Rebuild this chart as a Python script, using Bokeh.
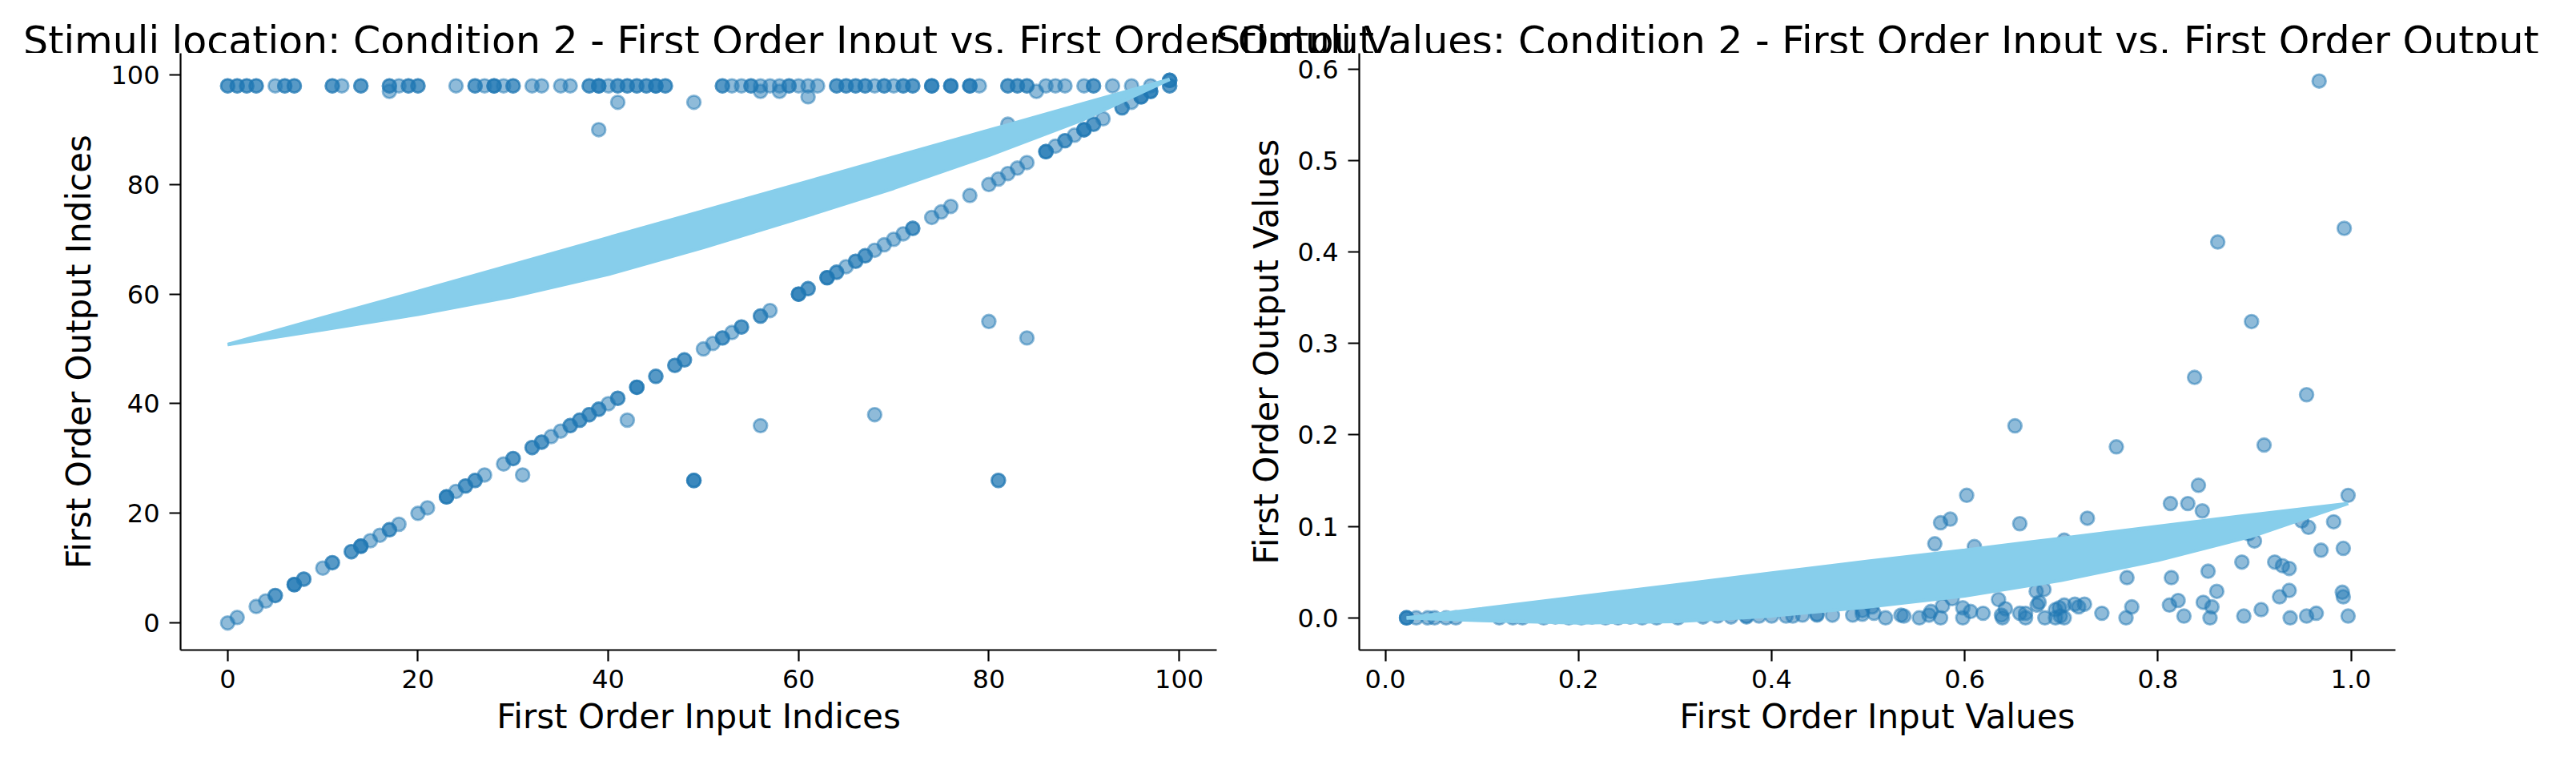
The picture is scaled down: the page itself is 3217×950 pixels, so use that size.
from bokeh.core.properties import value
from bokeh.embed import file_html
from bokeh.layouts import column, row
from bokeh.models import FixedTicker, NumeralTickFormatter, Range1d
from bokeh.plotting import figure
from bokeh.resources import INLINE

# ---- left panel: stimuli location (indices) ----
loc_input = [
    # output index 98
    0, 0, 1, 1, 2, 2, 3, 3, 5, 6,
    6, 7, 7, 11, 11, 12, 14, 14, 17, 17,
    18, 19, 19, 20, 20, 24, 26, 26, 27, 28,
    28, 28, 29, 30, 30, 32, 33, 35, 36, 38,
    38, 39, 39, 39, 40, 41, 41, 42, 42, 43,
    43, 44, 44, 45, 45, 45, 46, 46, 52, 52,
    53, 54, 55, 55, 56, 57, 58, 59, 59, 60,
    61, 62, 64, 64, 65, 65, 66, 66, 67, 67,
    68, 69, 69, 70, 71, 71, 72, 72, 74, 74,
    74, 76, 76, 76, 78, 78, 78, 79, 82, 82,
    83, 83, 84, 84, 86, 87, 88, 90, 91, 91,
    93, 95, 97, 99, 99,
    # just below the top row
    17, 56, 58, 85, 61, 41, 49, 39, 82,
    # diagonal
    0, 1, 3, 4, 5, 5, 7, 7, 7, 8,
    8, 10, 11, 11, 13, 13, 14, 14, 14, 15,
    16, 17, 17, 18, 20, 21, 23, 23, 23, 24,
    25, 25, 26, 26, 27, 29, 30, 30, 32, 32,
    33, 33, 34, 35, 36, 36, 37, 37, 38, 38,
    39, 39, 40, 41, 41, 43, 43, 43, 45, 45,
    47, 47, 48, 48, 50, 51, 52, 52, 53, 54,
    54, 56, 56, 57, 60, 60, 60, 61, 61, 63,
    63, 63, 64, 64, 65, 66, 66, 67, 67, 68,
    69, 70, 71, 72, 72, 74, 75, 76, 78, 80,
    81, 82, 83, 84, 86, 86, 86, 87, 88, 88,
    89, 90, 90, 90, 91, 91, 92, 94, 94, 95,
    96, 96, 96, 97, 97, 97, 99, 99, 99,
    # stray points
    31, 42, 49, 49, 49, 56, 68, 80, 84, 81, 81,
]
loc_output = [
    98, 98, 98, 98, 98, 98, 98, 98, 98, 98,
    98, 98, 98, 98, 98, 98, 98, 98, 98, 98,
    98, 98, 98, 98, 98, 98, 98, 98, 98, 98,
    98, 98, 98, 98, 98, 98, 98, 98, 98, 98,
    98, 98, 98, 98, 98, 98, 98, 98, 98, 98,
    98, 98, 98, 98, 98, 98, 98, 98, 98, 98,
    98, 98, 98, 98, 98, 98, 98, 98, 98, 98,
    98, 98, 98, 98, 98, 98, 98, 98, 98, 98,
    98, 98, 98, 98, 98, 98, 98, 98, 98, 98,
    98, 98, 98, 98, 98, 98, 98, 98, 98, 98,
    98, 98, 98, 98, 98, 98, 98, 98, 98, 98,
    98, 98, 98, 98, 98,
    97, 97, 97, 97, 96, 95, 95, 90, 91,
    0, 1, 3, 4, 5, 5, 7, 7, 7, 8,
    8, 10, 11, 11, 13, 13, 14, 14, 14, 15,
    16, 17, 17, 18, 20, 21, 23, 23, 23, 24,
    25, 25, 26, 26, 27, 29, 30, 30, 32, 32,
    33, 33, 34, 35, 36, 36, 37, 37, 38, 38,
    39, 39, 40, 41, 41, 43, 43, 43, 45, 45,
    47, 47, 48, 48, 50, 51, 52, 52, 53, 54,
    54, 56, 56, 57, 60, 60, 60, 61, 61, 63,
    63, 63, 64, 64, 65, 66, 66, 67, 67, 68,
    69, 70, 71, 72, 72, 74, 75, 76, 78, 80,
    81, 82, 83, 84, 86, 86, 86, 87, 88, 88,
    89, 90, 90, 90, 91, 91, 92, 94, 94, 95,
    96, 96, 96, 97, 97, 97, 99, 99, 99,
    27, 37, 26, 26, 26, 36, 38, 55, 52, 26, 26,
]

# fitted curves on the left panel (upper and lower edge of the band)
loc_fit_x = [0, 10, 20, 30, 40, 50, 60, 70, 80, 90, 99]
loc_fit_upper = [50.8, 55.7, 60.5, 65.4, 70.3, 75.2, 80.1, 85.0, 89.9, 94.8, 99.2]
loc_fit_lower = [50.8, 53.5, 56.3, 59.6, 63.6, 68.5, 73.8, 79.3, 85.3, 91.9, 99.2]

# ---- right panel: stimuli values ----
val_input = [
    0.022, 0.022, 0.022, 0.032, 0.044, 0.051, 0.063, 0.073,
    0.118, 0.132, 0.142, 0.164, 0.176, 0.190, 0.203, 0.214, 0.228, 0.241,
    0.254, 0.266, 0.281, 0.303, 0.329, 0.344, 0.358, 0.374, 0.374, 0.387,
    0.400, 0.415, 0.422, 0.432, 0.447, 0.447, 0.463, 0.484, 0.494, 0.494,
    0.504, 0.506, 0.518, 0.534, 0.537, 0.553, 0.563, 0.565, 0.575, 0.577,
    0.587, 0.598, 0.598, 0.606, 0.619, 0.635, 0.638, 0.639, 0.642, 0.657,
    0.663, 0.663, 0.675, 0.677, 0.683, 0.674, 0.682, 0.694, 0.694, 0.698,
    0.699, 0.703, 0.703, 0.714, 0.718, 0.724, 0.742, 0.767, 0.773, 0.812,
    0.821, 0.827, 0.847, 0.856, 0.854, 0.889, 0.907, 0.937, 0.954, 0.964,
    0.997,
    0.569, 0.575, 0.585, 0.595, 0.602, 0.610, 0.657, 0.703, 0.727, 0.768,
    0.814, 0.813, 0.831, 0.842, 0.846, 0.852, 0.861, 0.887, 0.894, 0.900,
    0.921, 0.929, 0.936, 0.936, 0.926, 0.949, 0.956, 0.969, 0.982, 0.992,
    0.997, 0.991, 0.992,
    0.652, 0.757, 0.838, 0.862, 0.897, 0.910, 0.954, 0.967, 0.993,
]
val_output = [
    0.000, 0.000, 0.000, 0.000, 0.000, 0.000, 0.000, 0.000,
    0.000, 0.000, 0.000, 0.000, 0.001, 0.000, 0.000, 0.001, 0.000, 0.000,
    0.001, 0.000, 0.000, 0.000, 0.001, 0.002, 0.001, 0.002, 0.001, 0.002,
    0.002, 0.002, 0.002, 0.003, 0.003, 0.004, 0.003, 0.003, 0.008, 0.004,
    0.012, 0.005, 0.000, 0.003, 0.002, 0.000, 0.003, 0.007, 0.000, 0.013,
    0.021, 0.011, 0.000, 0.007, 0.005, 0.020, 0.003, 0.000, 0.010, 0.005,
    0.005, 0.000, 0.014, 0.017, 0.000, 0.029, 0.031, 0.009, 0.000, 0.011,
    0.002, 0.000, 0.014, 0.015, 0.012, 0.015, 0.005, 0.000, 0.012, 0.014,
    0.019, 0.002, 0.017, 0.012, 0.000, 0.002, 0.009, 0.000, 0.002, 0.005,
    0.002,
    0.081, 0.104, 0.108, 0.060, 0.134, 0.078, 0.103, 0.085, 0.109, 0.044,
    0.044, 0.125, 0.125, 0.145, 0.117, 0.051, 0.029, 0.061, 0.092, 0.084,
    0.061, 0.057, 0.054, 0.030, 0.023, 0.106, 0.099, 0.074, 0.105, 0.076,
    0.134, 0.028, 0.023,
    0.210, 0.187, 0.263, 0.411, 0.324, 0.189, 0.244, 0.587, 0.426,
]

val_fit_x = [0.022, 0.1, 0.2, 0.3, 0.4, 0.5, 0.6, 0.7, 0.8, 0.9, 0.997]
val_fit_upper = [0.0, 0.010, 0.023, 0.036, 0.049, 0.062, 0.074, 0.087, 0.100, 0.113, 0.125]
val_fit_lower = [0.0, -0.003, -0.0055, -0.004, 0.002, 0.012, 0.024, 0.041, 0.063, 0.090, 0.125]

loc_ticks = [0, 20, 40, 60, 80, 100]
val_x_ticks = [0.0, 0.2, 0.4, 0.6, 0.8, 1.0]
val_y_ticks = [0.0, 0.1, 0.2, 0.3, 0.4, 0.5, 0.6]

titles = [
    "Stimuli location: Condition 2 - First Order Input vs. First Order Output",
    "Stimuli Values: Condition 2 - First Order Input vs. First Order Output",
]

FONT = "DejaVu Sans"
POINT_COLOR = "#1f77b4"
FIT_COLOR = "#87ceeb"

# layout (pixels)
TITLE_H = 66
PLOT_H = 868
FRAME_W = 1294
FRAME_H = 745
LEFT_W, LEFT_BORDER = 1540, 225
RIGHT_W, RIGHT_BORDER = 1660, 157


def make_panel(width, border_left, x_range, y_range, x_label, y_label):
    p = figure(width=width, height=PLOT_H, x_range=x_range, y_range=y_range,
               output_backend="svg", toolbar_location=None, title=None,
               min_border_left=border_left, min_border_right=width - border_left - FRAME_W,
               min_border_top=0, min_border_bottom=PLOT_H - FRAME_H)
    p.outline_line_color = None
    p.grid.visible = False
    p.background_fill_color = "white"
    for ax in (p.xaxis, p.yaxis):
        ax.axis_line_width = 2.2
        ax.major_tick_line_width = 2.2
        ax.major_tick_out = 14
        ax.major_tick_in = 0
        ax.minor_tick_line_color = None
        ax.major_label_text_font = FONT
        ax.major_label_text_font_size = "32px"
        ax.major_label_text_color = "black"
        ax.axis_label_text_font = FONT
        ax.axis_label_text_font_size = "42px"
        ax.axis_label_text_font_style = "normal"
        ax.axis_label_text_color = "black"
    p.xaxis.axis_label = x_label
    p.yaxis.axis_label = y_label
    p.xaxis.major_label_standoff = 10
    p.yaxis.major_label_standoff = 12
    p.xaxis.axis_label_standoff = 8
    p.yaxis.axis_label_standoff = 12
    return p


def add_points_and_fit(p, xs, ys, fit_x, fit_lo, fit_hi):
    p.scatter(xs, ys, size=16.7, fill_color=POINT_COLOR, line_color=POINT_COLOR,
              fill_alpha=0.5, line_alpha=0.5, line_width=2.8)
    p.varea(x=fit_x, y1=fit_lo, y2=fit_hi, fill_color=FIT_COLOR)
    p.line(fit_x, fit_hi, line_color=FIT_COLOR, line_width=4.2)
    p.line(fit_x, fit_lo, line_color=FIT_COLOR, line_width=4.2)


left = make_panel(LEFT_W, LEFT_BORDER, Range1d(-4.95, 103.95), Range1d(-4.95, 103.95),
                  "First Order Input Indices", "First Order Output Indices")
left.xaxis.ticker = FixedTicker(ticks=loc_ticks)
left.yaxis.ticker = FixedTicker(ticks=loc_ticks)
add_points_and_fit(left, loc_input, loc_output, loc_fit_x, loc_fit_lower, loc_fit_upper)

right = make_panel(RIGHT_W, RIGHT_BORDER, Range1d(-0.027, 1.046), Range1d(-0.0352, 0.6174),
                   "First Order Input Values", "First Order Output Values")
right.xaxis.ticker = FixedTicker(ticks=val_x_ticks)
right.yaxis.ticker = FixedTicker(ticks=val_y_ticks)
right.xaxis.formatter = NumeralTickFormatter(format="0.0")
right.yaxis.formatter = NumeralTickFormatter(format="0.0")
add_points_and_fit(right, val_input, val_output, val_fit_x, val_fit_lower, val_fit_upper)

# titles share one strip so they can overlap like the original
total_w = LEFT_W + RIGHT_W
head = figure(width=total_w, height=TITLE_H, x_range=Range1d(0, total_w), y_range=Range1d(0, TITLE_H),
              output_backend="svg", toolbar_location=None, title=None, min_border=0,
              x_axis_location=None, y_axis_location=None)
head.outline_line_color = None
head.grid.visible = False
title_x = [LEFT_BORDER + FRAME_W / 2, LEFT_W + RIGHT_BORDER + FRAME_W / 2]
title_y = [TITLE_H - 51.3, TITLE_H - 51.3]
head.text(x=title_x, y=title_y, text=titles, text_font=value(FONT), text_font_size="49px",
          text_align="center", text_baseline="alphabetic", text_color="black")

page = column(head, row(left, right))
open("out.html", "w").write(file_html(page, INLINE))
